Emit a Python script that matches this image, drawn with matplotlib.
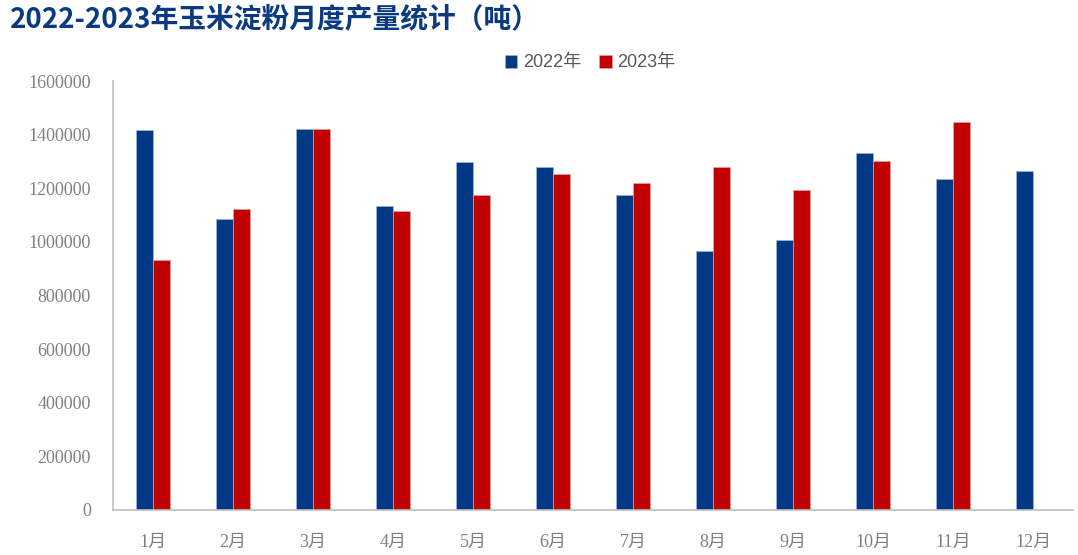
import matplotlib.pyplot as plt
import numpy as np

months = ["1月", "2月", "3月", "4月", "5月", "6月", "7月", "8月", "9月", "10月", "11月", "12月"]
output_2022 = [1417000, 1087000, 1421000, 1134000, 1298000, 1278000,
               1174000, 966000, 1006000, 1332000, 1235000, 1263000]
output_2023 = [932000, 1122000, 1421000, 1115000, 1174000, 1254000,
               1221000, 1278000, 1192000, 1302000, 1446000, np.nan]
series_names = ["2022年", "2023年"]
yticks = list(range(0, 1600001, 200000))

CJK = "Noto Sans CJK SC"
BLUE = "#023884"
RED = "#c00000"
GRAY = "#808080"

fig = plt.figure(figsize=(10.78, 5.55), dpi=100)
ax = fig.add_axes([113 / 1078, 1 - 510 / 555, 960 / 1078, 429 / 555])

x = np.arange(len(months))
w = 0.21
ax.bar(x - w / 2, output_2022, width=w, color=BLUE, edgecolor="#9fb3d6",
       linewidth=0.5, label=series_names[0])
ax.bar(x + w / 2, output_2023, width=w, color=RED, edgecolor="#e8a0a0",
       linewidth=0.5, label=series_names[1])

ax.set_xlim(-0.5, len(months) - 0.5)
ax.set_ylim(0, 1600000)
ax.set_yticks(yticks)
ax.set_yticklabels([str(v) for v in yticks], family=["Liberation Serif", CJK],
                   fontsize=13, color=GRAY)
ax.set_xticks(x)
ax.set_xticklabels(months, family=["Liberation Serif", CJK], fontsize=13, color=GRAY)
ax.tick_params(length=0, pad=17, axis="x")
ax.tick_params(length=0, pad=16, axis="y")

for s in ["top", "right"]:
    ax.spines[s].set_visible(False)
for s in ["left", "bottom"]:
    ax.spines[s].set_color("#c0c0c0")
    ax.spines[s].set_linewidth(1.2)

leg = ax.legend(loc="center", bbox_to_anchor=(590 / 1078, 1 - 63 / 555),
                bbox_transform=fig.transFigure, ncol=2, frameon=False,
                handlelength=0.7, handleheight=0.7, handletextpad=0.3,
                columnspacing=1.0,
                prop={"family": ["Liberation Sans", CJK], "size": 13})
for t in leg.get_texts():
    t.set_color("#595959")

fig.text(10 / 1078, 1 - 19 / 555, "2022-2023年玉米淀粉月度产量统计（吨）",
         family=CJK, fontsize=20, fontweight="bold", color="#0b3a82",
         va="center", ha="left")

fig.savefig("out.png", dpi=100)
